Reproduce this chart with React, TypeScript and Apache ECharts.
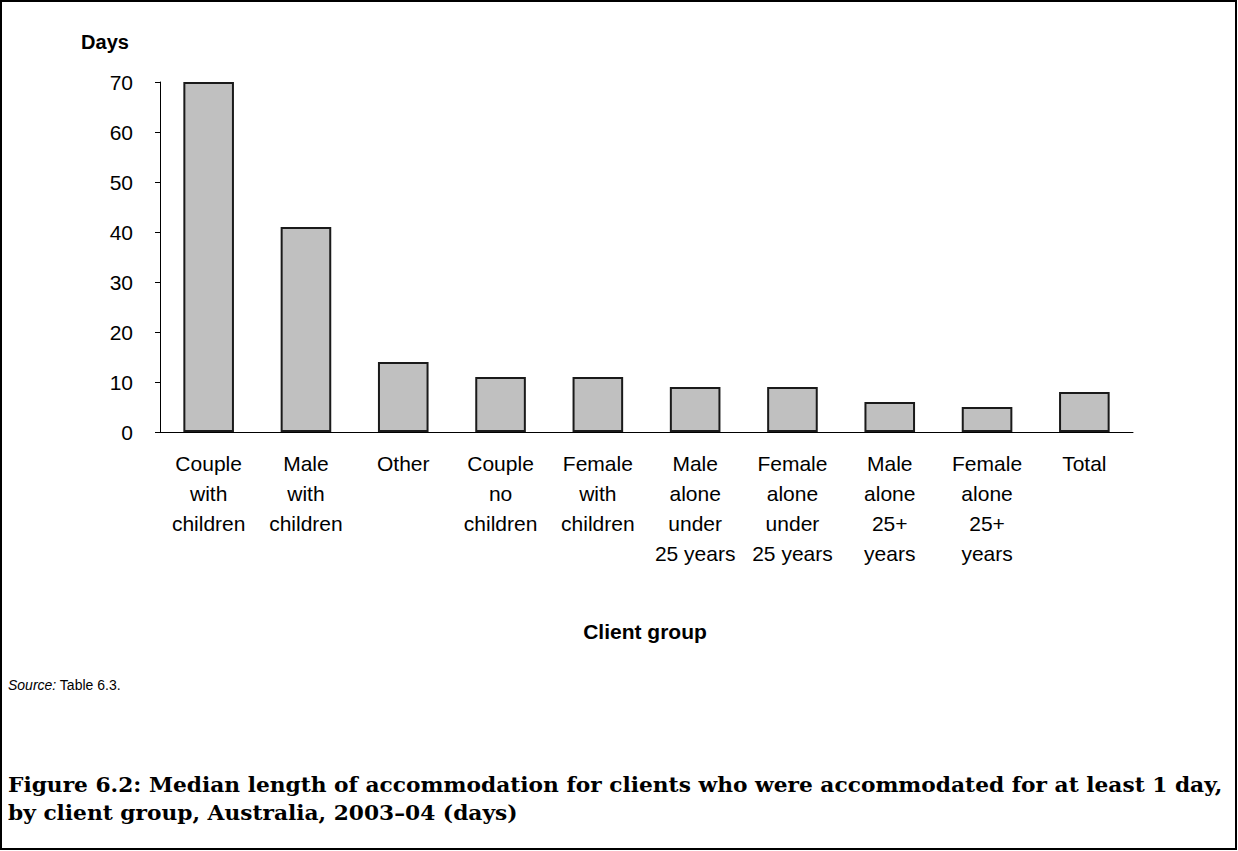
import React, { useEffect, useRef } from "react";
import * as echarts from "echarts";

const categories = [
  "Couple\nwith\nchildren",
  "Male\nwith\nchildren",
  "Other",
  "Couple\nno\nchildren",
  "Female\nwith\nchildren",
  "Male\nalone\nunder\n25 years",
  "Female\nalone\nunder\n25 years",
  "Male\nalone\n25+\nyears",
  "Female\nalone\n25+\nyears",
  "Total",
];
const medianDays = [70, 41, 14, 11, 11, 9, 9, 6, 5, 8];
const yTicks = { min: 0, max: 70, interval: 10 };

const yAxisTitle = "Days";
const xAxisTitle = "Client group";
const sourceLabel = "Source:";
const sourceText = " Table 6.3.";
const figureTitle = [
  "Figure 6.2: Median length of accommodation for clients who were accommodated for at least 1 day,",
  "by client group, Australia, 2003–04 (days)",
];

export default function App() {
  const ref = useRef<HTMLDivElement>(null);
  useEffect(() => {
    if (!ref.current) return;
    const chart = echarts.init(ref.current, null, { renderer: "svg" });
    const sans = "Arial, 'Liberation Sans', sans-serif";
    const serif = "'Book Antiqua', Palatino, 'DejaVu Serif', serif";
    chart.setOption({
      animation: false,
      backgroundColor: "#ffffff",
      grid: { left: 160, right: 105, top: 82, bottom: 419, containLabel: false },
      xAxis: {
        type: "category",
        data: categories,
        axisLine: { show: true, lineStyle: { color: "#000", width: 1 } },
        axisTick: { show: false },
        axisLabel: {
          interval: 0,
          margin: 16,
          color: "#000",
          fontFamily: sans,
          fontSize: 21,
          lineHeight: 30,
          align: "center",
        },
        splitLine: { show: false },
      },
      yAxis: {
        type: "value",
        min: yTicks.min,
        max: yTicks.max,
        interval: yTicks.interval,
        axisLine: { show: true, lineStyle: { color: "#000", width: 1 } },
        axisTick: { show: true, length: 5, lineStyle: { color: "#000" } },
        axisLabel: { margin: 27, color: "#000", fontFamily: sans, fontSize: 21 },
        splitLine: { show: false },
      },
      series: [
        {
          type: "bar",
          data: medianDays,
          barWidth: "52%",
          itemStyle: { color: "#c0c0c0", borderColor: "#1a1a1a", borderWidth: 2 },
        },
      ],
      graphic: [
        {
          type: "rect",
          shape: { x: 1, y: 1, width: 1235, height: 848 },
          style: { fill: "none", stroke: "#000", lineWidth: 2 },
          silent: true,
        },
        {
          type: "text",
          x: 105,
          y: 42,
          style: { text: yAxisTitle, font: `bold 20px ${sans}`, fill: "#000", align: "center", verticalAlign: "middle" },
        },
        {
          type: "text",
          x: 645,
          y: 631,
          style: { text: xAxisTitle, font: `bold 21px ${sans}`, fill: "#000", align: "center", verticalAlign: "middle" },
        },
        {
          type: "text",
          x: 8,
          y: 685,
          style: {
            text: `{i|${sourceLabel}}${sourceText}`,
            font: `14px ${sans}`,
            fill: "#000",
            verticalAlign: "middle",
            rich: { i: { fontStyle: "italic", fontSize: 14, fontFamily: sans, fill: "#000" } },
          },
        },
        {
          type: "text",
          x: 8,
          y: 785,
          scaleX: 1.087,
          style: { text: figureTitle[0], font: `bold 20px ${serif}`, fill: "#000", verticalAlign: "middle" },
        },
        {
          type: "text",
          x: 8,
          y: 813,
          scaleX: 1.087,
          style: { text: figureTitle[1], font: `bold 20px ${serif}`, fill: "#000", verticalAlign: "middle" },
        },
      ],
    });
    return () => chart.dispose();
  }, []);
  return (
    <div
      ref={ref}
      style={{ position: "fixed", left: 0, top: 0, width: 1238, height: 851, background: "#fff" }}
    />
  );
}
